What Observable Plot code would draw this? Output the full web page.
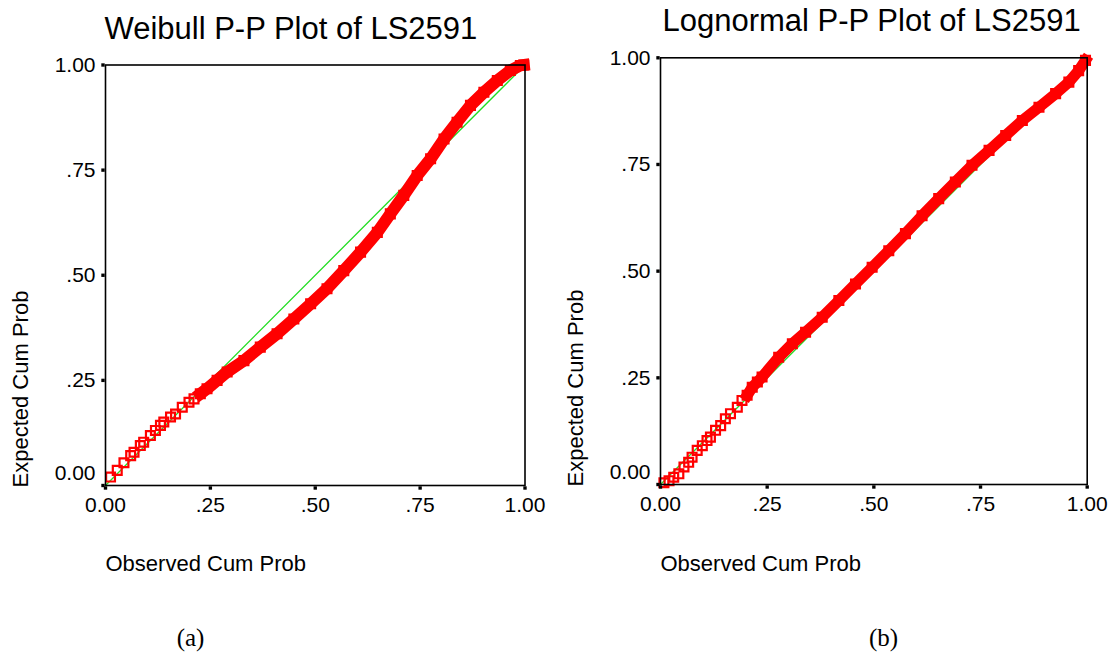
<!DOCTYPE html>
<html><head><meta charset="utf-8">
<script src="https://cdn.jsdelivr.net/npm/d3@7"></script>
<script src="https://cdn.jsdelivr.net/npm/@observablehq/plot@0.6"></script>
<style>
html,body{margin:0;padding:0;background:#fff;}
#wrap{position:relative;width:1109px;height:660px;overflow:hidden;}
#wrap svg{position:absolute;top:0;overflow:visible;}
</style></head><body><div id="wrap"></div>
<script>
// ---- data ----
const tickValues = [0, 0.25, 0.5, 0.75, 1];
const tickLabels = ["0.00", ".25", ".50", ".75", "1.00"];
const diagonal = [0, 1];
const titles = ["Weibull P-P Plot of LS2591", "Lognormal P-P Plot of LS2591"];
const xTitle = "Observed Cum Prob";
const yTitle = "Expected Cum Prob";
const captions = ["(a)", "(b)"];

const weibullObserved = [0.012,0.028,0.044,0.060,0.068,0.083,0.091,0.107,0.119,0.131,0.139,0.155,0.167,0.183,0.199,0.211,0.226,0.242,
  0.266,0.290,0.330,0.369,0.409,0.449,0.489,0.528,0.568,0.608,0.648,0.679,0.711,0.743,0.775,0.807,0.838,0.870,0.902,0.934,0.965,0.989,0.997];
const weibullExpected = [0.020,0.036,0.054,0.071,0.079,0.095,0.103,0.119,0.131,0.143,0.151,0.163,0.170,0.186,0.198,0.206,0.218,0.230,
  0.250,0.270,0.297,0.329,0.361,0.396,0.432,0.468,0.511,0.555,0.602,0.646,0.690,0.737,0.777,0.824,0.864,0.904,0.935,0.963,0.987,0.999,1.000];

const lognormObserved = [0.008,0.020,0.031,0.043,0.055,0.066,0.074,0.086,0.098,0.109,0.117,0.129,0.141,0.152,0.164,0.180,0.191,0.203,0.215,0.227,0.238,
  0.277,0.309,0.340,0.379,0.418,0.457,0.496,0.535,0.574,0.613,0.652,0.691,0.730,0.770,0.809,0.848,0.887,0.926,0.957,0.980,0.996];
const lognormExpected = [0.004,0.009,0.017,0.025,0.041,0.052,0.064,0.080,0.091,0.103,0.111,0.127,0.138,0.154,0.166,0.181,0.197,0.209,0.228,0.240,0.252,
  0.298,0.330,0.357,0.392,0.431,0.470,0.509,0.548,0.588,0.630,0.670,0.709,0.748,0.783,0.818,0.853,0.884,0.916,0.943,0.970,0.994];

// ---- drawing ----
const fmt = d => tickLabels[tickValues.indexOf(d)];
function panel(cfg) {
  const rows = cfg.obs.map((o, i) => ({o, e: cfg.exp[i]}));
  const dense = rows.filter(r => r.o >= cfg.denseFrom);
  const plot = Plot.plot({
    width: cfg.width, height: 660,
    marginLeft: cfg.mL, marginRight: cfg.mR, marginTop: cfg.mT, marginBottom: cfg.mB,
    style: {fontFamily: "'Liberation Sans', Arial, sans-serif", fontSize: "21px", background: "transparent", overflow: "visible", color: "#000"},
    x: {domain: [0, 1], axis: null},
    y: {domain: [0, 1], axis: null},
    marks: [
      Plot.line(diagonal, {x: d => d, y: d => d, stroke: "#22dd22", strokeWidth: 1.3}),
      Plot.line(dense, {x: "o", y: "e", stroke: "#ff0000", strokeWidth: cfg.band, strokeLinecap: "square"}),
      Plot.dot(rows, {x: "o", y: "e", symbol: "square", r: 5, stroke: "#ff0000", strokeWidth: 2.2, fill: "none"}),
      Plot.frame({stroke: "#000", strokeWidth: 1.6}),
      // tick marks (small black blobs outside the frame)
      Plot.dot(tickValues, {x: d => d, y: 0, symbol: "square", r: 1.9, fill: "#000", dy: 2.5}),
      Plot.dot(tickValues, {x: 0, y: d => d, symbol: "square", r: 1.9, fill: "#000", dx: -2.5}),
      // tick labels
      Plot.text(tickValues, {x: d => d, y: 0, text: fmt, lineAnchor: "top", dy: 12, fontSize: 21, fill: "#000"}),
      Plot.text(tickValues.slice(1), {x: 0, y: d => d, text: fmt, textAnchor: "end", lineAnchor: "middle", dx: -10, fontSize: 21, fill: "#000"}),
      Plot.text(tickValues.slice(0, 1), {x: 0, y: d => d, text: fmt, textAnchor: "end", lineAnchor: "middle", dx: -10, dy: -12, fontSize: 21, fill: "#000"}),
      // titles
      Plot.text([cfg.title], {text: d => d, frameAnchor: "top-left", textAnchor: "start", lineAnchor: "middle", dx: cfg.titleDx, dy: cfg.titleDy, fontSize: 31, fill: "#000"}),
      Plot.text([xTitle], {text: d => d, frameAnchor: "bottom-left", textAnchor: "start", lineAnchor: "middle", dy: cfg.xTitleDy, fontSize: 22, fill: "#000"}),
      Plot.text([yTitle], {text: d => d, frameAnchor: "bottom-left", textAnchor: "start", lineAnchor: "middle", rotate: -90, dx: cfg.yTitleDx, dy: 2, fontSize: 22, fill: "#000"}),
      Plot.text([cfg.caption], {text: d => d, frameAnchor: "bottom-left", textAnchor: "middle", lineAnchor: "middle", dx: cfg.capDx, dy: cfg.capDy, fontSize: 25, fontFamily: "'Liberation Serif', 'Times New Roman', serif", fill: "#000"})
    ]
  });
  plot.style.left = cfg.left + "px";
  document.getElementById("wrap").appendChild(plot);
}

panel({left: 0, width: 555, mL: 105, mR: 30.5, mT: 64.5, mB: 175,
  obs: weibullObserved, exp: weibullExpected, denseFrom: 0.22, band: 12,
  title: titles[0], titleDx: -1, titleDy: -35.5, xTitleDy: 78, yTitleDx: -85,
  caption: captions[0], capDx: 85, capDy: 152});
panel({left: 555, width: 554, mL: 105, mR: 22.3, mT: 57.3, mB: 176,
  obs: lognormObserved, exp: lognormExpected, denseFrom: 0.2, band: 11,
  title: titles[1], titleDx: 2, titleDy: -36.3, xTitleDy: 79, yTitleDx: -85,
  caption: captions[1], capDx: 223, capDy: 153});
</script></body></html>
